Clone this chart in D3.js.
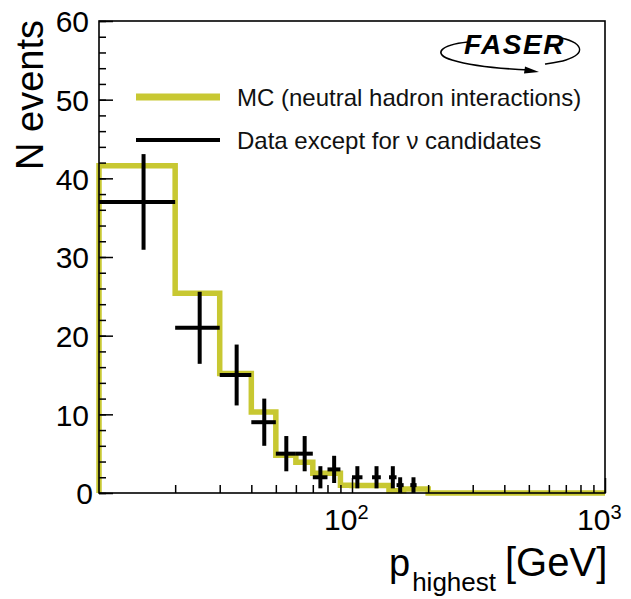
<!DOCTYPE html>
<html>
<head>
<meta charset="utf-8">
<script src="https://cdn.jsdelivr.net/npm/d3@7"></script>
<style>
  html, body { margin: 0; padding: 0; background: #fff; }
  svg { display: block; font-family: "Liberation Sans", Arial, sans-serif; }
</style>
</head>
<body>
<svg id="chart" width="631" height="599"></svg>
<script>
// ---- data ----
const mcEdges  = [10,20,30,40,50,60,70,80,90,100,110,120,130,140,150,160,170,180,190,200,1000];
const mcValues = [41.6,25.4,15.2,10.3,4.8,3.9,2.5,2.5,1.0,0.95,0.95,0.95,0.95,0.3,0.3,0.5,0.5,0.5,0.5,0];

const dataLow    = [10,20,30,40,50,60,70,80,100,120,140,150,170];
const dataHigh   = [20,30,40,50,60,70,80,90,110,130,150,160,180];
const dataCenter = [15,25,35,45,55,65,75,85,105,125,145,155,175];
const dataCounts = [37,21,15,9,5,5,2,3,2,2,2,1,1];
const dataErr    = [6.08,4.58,3.87,3,2.24,2.24,1.41,1.73,1.41,1.41,1.41,1,1];

const yTicks = [0,10,20,30,40,50,60];
const yMinorTicks = d3.range(0, 61, 2);
const xMinorTicks = [20,30,40,50,60,70,80,90,200,300,400,500,600,700,800,900];
const xMajorTicks = [100,1000];
const xTickLabels = [{v:100, base:"10", exp:"2"}, {v:1000, base:"10", exp:"3"}];

const legendItems = [
  {label: "MC (neutral hadron interactions)", color: "#c8c832", width: 7},
  {label: "Data except for \u03bd candidates", color: "#000", width: 4}
];

const MC_COLOR = "#c8c832";

// ---- layout ----
const svg = d3.select("#chart");
const x = d3.scaleLog().domain([10, 1000]).range([99, 605]);
const y = d3.scaleLinear().domain([0, 60]).range([493, 21]);

// MC histogram (step)
const mcPts = [[mcEdges[0], 0]];
mcValues.forEach((v, i) => { mcPts.push([mcEdges[i], v]); mcPts.push([mcEdges[i+1], v]); });
mcPts.push([mcEdges[mcEdges.length-1], 0]);
svg.append("path")
  .attr("d", d3.line().x(d => x(d[0])).y(d => y(d[1]))(mcPts))
  .attr("fill", "none").attr("stroke", MC_COLOR).attr("stroke-width", 5.5)
  .attr("stroke-linejoin", "miter");

// axes (ticks inward)
const gx = svg.append("g").attr("transform", `translate(0,${y(0)})`);
gx.append("g").call(d3.axisBottom(x).tickValues(xMinorTicks).tickSize(-8).tickFormat(""));
gx.append("g").call(d3.axisBottom(x).tickValues(xMajorTicks).tickSize(-15).tickFormat(""));
const gy = svg.append("g").attr("transform", `translate(${x(10)},0)`);
gy.append("g").call(d3.axisLeft(y).tickValues(yMinorTicks).tickSize(-7).tickFormat(""));
gy.append("g").attr("class","ymaj").call(d3.axisLeft(y).tickValues(yTicks).tickSize(-14).tickPadding(10).tickFormat(d3.format("d")));
svg.selectAll(".domain").remove();
svg.selectAll(".tick line").attr("stroke", "#000").attr("stroke-width", 1.5);
svg.selectAll(".ymaj .tick text").attr("font-size", 30).attr("fill", "#000")
   .attr("font-family", "Liberation Sans, Arial, sans-serif").attr("dy", "0.36em")
   .attr("dx", d => d === 0 ? 4 : 0);

// frame
svg.append("rect")
  .attr("x", x(10)).attr("y", y(60))
  .attr("width", x(1000) - x(10)).attr("height", y(0) - y(60))
  .attr("fill", "none").attr("stroke", "#000").attr("stroke-width", 1.6);

// data crosses
const gd = svg.append("g").attr("stroke", "#000").attr("stroke-width", 4);
dataCounts.forEach((c, i) => {
  gd.append("line").attr("x1", x(dataLow[i])).attr("x2", x(dataHigh[i]))
    .attr("y1", y(c)).attr("y2", y(c));
  gd.append("line").attr("x1", x(dataCenter[i])).attr("x2", x(dataCenter[i]))
    .attr("y1", y(c - dataErr[i])).attr("y2", y(c + dataErr[i]));
});

// x tick labels
xTickLabels.forEach(t => {
  const tx = svg.append("text").attr("x", x(t.v) - 28).attr("y", 530)
    .attr("font-size", 30).attr("fill", "#000");
  tx.append("tspan").text(t.base);
  tx.append("tspan").attr("font-size", 20).attr("dy", -11).text(t.exp);
});

// axis titles
svg.append("text").attr("transform", "translate(43,20) rotate(-90)")
  .attr("text-anchor", "end").attr("font-size", 38).attr("fill", "#000").text("N events");
const xt = svg.append("text").attr("x", 389).attr("y", 576).attr("font-size", 38).attr("fill", "#000");
xt.append("tspan").text("p");
xt.append("tspan").attr("font-size", 26).attr("dy", 15).attr("dx", 2).text("highest");
xt.append("tspan").attr("font-size", 40).attr("dy", -15).attr("dx", 9).text("[GeV]");

// legend
legendItems.forEach((d, i) => {
  const ly = 97 + i * 43;
  svg.append("line").attr("x1", 136).attr("x2", 220).attr("y1", ly).attr("y2", ly)
    .attr("stroke", d.color).attr("stroke-width", d.width);
  svg.append("text").attr("x", 237).attr("y", ly + 9).attr("font-size", 24)
    .attr("fill", "#111").text(d.label);
});

// FASER logo
const logo = svg.append("g");
logo.append("path")
  .attr("d", "M468,42 C440,45 432,54 452,60 C475,67 505,69 530,70")
  .attr("fill", "none").attr("stroke", "#000").attr("stroke-width", 1.6);
logo.append("path")
  .attr("d", "M525,66.5 L539,72 L524,73.5 Z").attr("fill", "#000");
logo.append("path")
  .attr("d", "M556,37 C585,42 586,54 566,60 C560,62 552,63 545,64")
  .attr("fill", "none").attr("stroke", "#000").attr("stroke-width", 1.4);
logo.append("text").attr("x", 464).attr("y", 54)
  .attr("font-size", 28).attr("font-weight", 900).attr("font-style", "italic")
  .attr("letter-spacing", 1.5).attr("fill", "#000").text("FASER");
</script>
</body>
</html>
